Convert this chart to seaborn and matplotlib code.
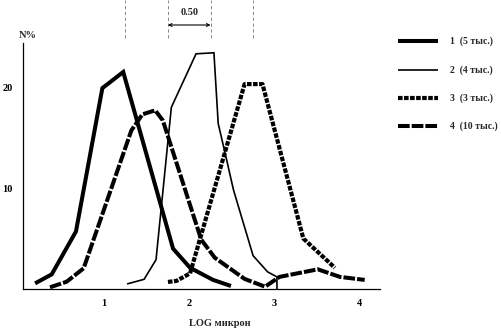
import matplotlib
matplotlib.use("Agg")
import matplotlib.pyplot as plt
from matplotlib.lines import Line2D
import seaborn as sns
import pandas as pd

# ---- data ----
s1_x = [0.19, 0.385, 0.67, 0.98, 1.225, 1.81, 2.01, 2.28, 2.49]
s1_y = [0.56, 1.45, 5.7, 19.9, 21.5, 4.0, 2.1, 0.9, 0.3]

s2_x = [1.27, 1.47, 1.61, 1.79, 2.08, 2.29, 2.34, 2.42, 2.52, 2.75, 2.92, 3.03, 3.03]
s2_y = [0.5, 0.96, 2.9, 18.0, 23.3, 23.4, 16.4, 13.5, 9.8, 3.3, 1.7, 1.2, 0.0]

s3_x = [1.75, 1.85, 2.01, 2.65, 2.86, 3.34, 3.71]
s3_y = [0.7, 0.8, 1.55, 20.3, 20.3, 5.0, 2.1]

s4_x = [0.365, 0.56, 0.76, 1.32, 1.45, 1.6, 1.69, 2.14, 2.3, 2.65, 2.89, 3.06, 3.51, 3.77, 4.06]
s4_y = [0.17, 0.72, 2.05, 15.7, 17.3, 17.7, 16.7, 4.9, 3.1, 1.0, 0.23, 1.2, 1.95, 1.2, 0.9]

labels = ["1  (5 тыс.)", "2  (4 тыс.)", "3  (3 тыс.)", "4  (10 тыс.)"]
x_ticks = [1, 2, 3, 4]
y_ticks = [10, 20]
marker_x = [1.25, 1.75, 2.25, 2.75]
interval_label = "0.50"

sns.set_style("white")
plt.rcParams["font.family"] = ["Liberation Serif", "DejaVu Serif"]
plt.rcParams["font.weight"] = "bold"

W, H = 501, 329
fig = plt.figure(figsize=(W / 100, H / 100), dpi=100)
ax_l, ax_r, ax_t, ax_b = 23, 380, 42.7, 289
ax = fig.add_axes([ax_l / W, 1 - ax_b / H, (ax_r - ax_l) / W, (ax_b - ax_t) / H])

styles = [
    dict(lw=2.9, ls="-"),
    dict(lw=1.2, ls="-"),
    dict(lw=3.0, ls=(0, (1.1, 0.35))),
    dict(lw=2.9, ls=(0, (2.9, 0.5))),
]
series = [(s1_x, s1_y), (s2_x, s2_y), (s3_x, s3_y), (s4_x, s4_y)]
for (xs, ys), st in zip(series, styles):
    df = pd.DataFrame({"x": xs, "y": ys})
    sns.lineplot(data=df, x="x", y="y", ax=ax, color="black", linewidth=st["lw"],
                 linestyle=st["ls"], estimator=None, sort=False, clip_on=False,
                 solid_joinstyle="miter", dash_capstyle="butt", solid_capstyle="butt")

ax.set_xlim(0.048, 4.24)
ax.set_ylim(0, 24.4)
ax.spines["top"].set_visible(False)
ax.spines["right"].set_visible(False)
for s in ["left", "bottom"]:
    ax.spines[s].set_linewidth(0.9)
    ax.spines[s].set_color("black")
ax.set_xticks(x_ticks)
ax.set_xticklabels([str(t) for t in x_ticks])
ax.set_yticks(y_ticks)
ax.set_yticklabels([str(t) for t in y_ticks])
ax.tick_params(axis="x", direction="out", length=5, width=0.8, labelsize=7.5, pad=2.5, colors="black")
ax.tick_params(axis="y", direction="out", length=6, width=0.8, labelsize=7.5, pad=1.5, colors="black")
for lab in ax.get_xticklabels() + ax.get_yticklabels():
    lab.set_fontweight("bold")
ax.set_xlabel("")
ax.set_ylabel("")

fig.text(220 / W, 1 - 324 / H, "LOG микрон", ha="center", va="center", fontsize=7.5, fontweight="bold")
fig.text(28 / W, 1 - 35 / H, "N%", ha="center", va="center", fontsize=7.5, fontweight="bold")

# top markers
def yfrac(px):
    return 1 + (ax_t - px) / (ax_b - ax_t)

tr = ax.get_xaxis_transform()
ax.vlines(marker_x, yfrac(38), yfrac(0), transform=tr, colors="#777777",
          linewidth=0.6, linestyles=(0, (4, 3)), clip_on=False)
ax.annotate("", xy=(marker_x[1], yfrac(25)), xytext=(marker_x[2], yfrac(25)),
            xycoords=tr, textcoords=tr,
            arrowprops=dict(arrowstyle="<->", lw=0.8, color="black",
                            mutation_scale=5, shrinkA=0, shrinkB=0), annotation_clip=False)
ax.text((marker_x[1] + marker_x[2]) / 2, yfrac(12.5), interval_label, transform=tr,
        ha="center", va="center", fontsize=7.5, fontweight="bold")

# legend, drawn manually
leg_y = [40.7, 70, 98.3, 126]
for ypx, st, lab in zip(leg_y, styles, labels):
    ln = Line2D([398 / W, 438 / W], [1 - ypx / H] * 2, transform=fig.transFigure,
                color="black", linewidth=st["lw"], linestyle=st["ls"],
                dash_capstyle="butt", solid_capstyle="butt")
    fig.add_artist(ln)
    fig.text(450 / W, 1 - ypx / H, lab, ha="left", va="center", fontsize=7, fontweight="bold")

fig.savefig("out.png", dpi=100, facecolor="white")
